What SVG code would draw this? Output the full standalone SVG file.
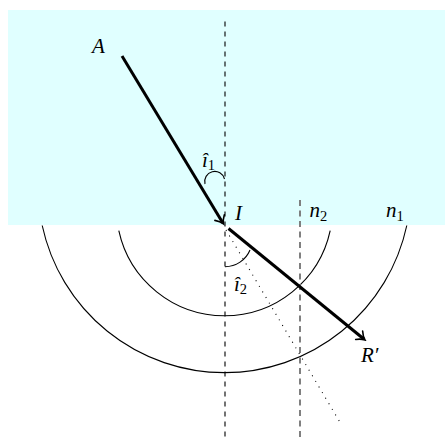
<svg xmlns="http://www.w3.org/2000/svg" width="445" height="437" viewBox="0 0 445 437">
  <style>
    .lbl { font-family: "Liberation Serif", "DejaVu Serif", serif; font-style: italic; font-size: 21px; fill: #000; }
    .sub { font-family: "Liberation Serif", "DejaVu Serif", serif; font-style: normal; font-size: 14.5px; }
    .wave { fill: none; stroke: #000; stroke-width: 1.1; }
    .ray { fill: none; stroke: #000; stroke-width: 3; }
    .normal { fill: none; stroke: #000; stroke-width: 1.1; stroke-dasharray: 5 5; }
    .grey { fill: none; stroke: #7a7a7a; stroke-width: 1.9; stroke-dasharray: 6 4.5; }
    .dots { fill: none; stroke: #000; stroke-width: 1.1; stroke-dasharray: 1 5.5; }
    .ang { fill: none; stroke: #000; stroke-width: 1.1; }
  </style>
  <defs>
    <marker id="arrow" viewBox="-9 -7 11 14" markerWidth="11" markerHeight="14" refX="-1.5" refY="0" orient="auto" markerUnits="userSpaceOnUse">
      <path d="M-7.5,-5.5 C-4.5,-2.2 -1.5,-0.6 0,0 C-1.5,0.6 -4.5,2.2 -7.5,5.5" fill="none" stroke="#000" stroke-width="1.6" stroke-linecap="round"/>
    </marker>
  </defs>

  <rect id="medium" x="8" y="10" width="437" height="215" fill="#e0ffff"/>

  <g id="wavefronts">
    <path class="wave" d="M330.2,230.7 A108.2 108.2 0 0 1 118.8,230.7"/>
    <path class="wave" d="M406.8,225.5 A186.5 186.5 0 0 1 42.2,225.5"/>
  </g>

  <g id="normals">
    <line class="normal" x1="225" y1="21.5" x2="225" y2="437"/>
    <line class="grey" x1="300" y1="200" x2="300" y2="437"/>
  </g>

  <g id="connectors">
    <line id="incident" class="ray" x1="122" y1="56" x2="222.7" y2="222.7" marker-end="url(#arrow)"/>
    <line id="refracted" class="ray" x1="228.5" y1="228.5" x2="363.8" y2="339" marker-end="url(#arrow)"/>
    <line id="extension" class="dots" x1="226" y1="230" x2="339.5" y2="421.5"/>
  </g>

  <g id="angles">
    <path class="ang" d="M205,184 A10 10 0 0 1 224.5,179"/>
    <path class="ang" d="M225,266.7 A27 27 0 0 0 250,250"/>
  </g>

  <g id="labels">
    <text id="label-A" class="lbl" x="92" y="53">A</text>
    <text id="label-I" class="lbl" x="235" y="220">I</text>
    <text id="label-n2" class="lbl" x="309.5" y="217">n<tspan class="sub" dy="4">2</tspan></text>
    <text id="label-n1" class="lbl" x="386" y="217">n<tspan class="sub" dy="4">1</tspan></text>
    <text id="label-R" class="lbl" x="361" y="362">R′</text>
    <text id="label-i1" class="lbl" x="202" y="167">î<tspan class="sub" dy="3">1</tspan></text>
    <text id="label-i2" class="lbl" x="234" y="291">î<tspan class="sub" dy="3">2</tspan></text>
  </g>
</svg>
